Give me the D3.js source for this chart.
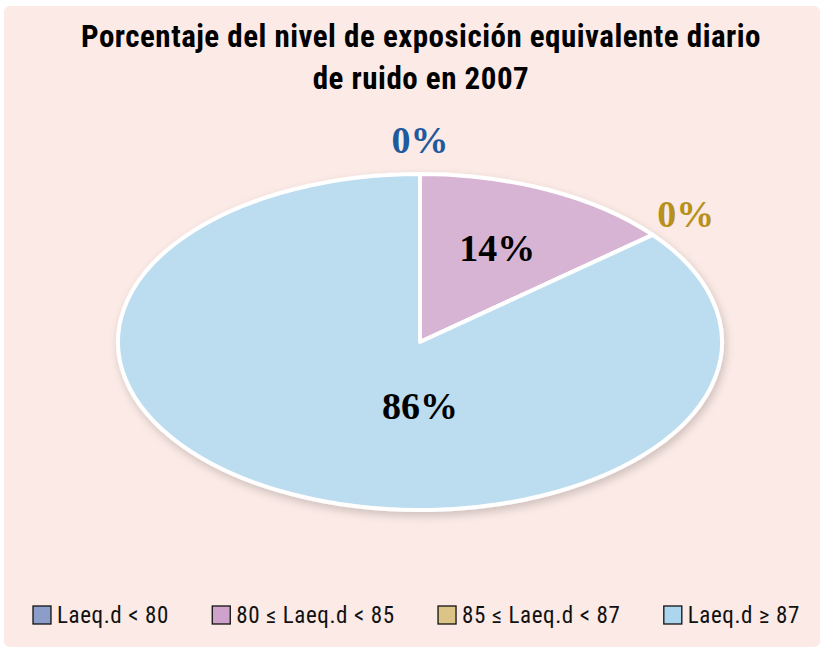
<!DOCTYPE html>
<html>
<head>
    <meta charset="UTF-8">
    <script src="https://d3js.org/d3.v7.min.js"></script>
    <style type="text/css">
        body { margin: 0; background: #ffffff; }
    </style>
</head>
<body>
    <script type="text/javascript">
        // chart data
        var categories = ["Laeq.d < 80", "80 \u2264 Laeq.d < 85", "85 \u2264 Laeq.d < 87", "Laeq.d \u2265 87"];
        var values = [0, 14, 0, 86];
        var sliceColors = ["#8b9dc8", "#d8b4d4", "#dcc386", "#bcdcef"];
        var legendColors = ["#8b9dc8", "#cfa2cb", "#dcc386", "#abd6ee"];
        var labelColors = ["#1f5a9c", "#000000", "#b8901c", "#000000"];
        var titleLines = ["Porcentaje del nivel de exposici\u00f3n equivalente diario", "de ruido en 2007"];

        var width = 824, height = 652;
        var cx = 420, cy = 342, rx = 302, ry = 168;
        var condensed = "'Liberation Sans Narrow', 'Roboto Condensed', 'Roboto', sans-serif";

        var svg = d3.select("body")
            .append("svg")
            .attr("width", width)
            .attr("height", height);

        // drop shadow for the pie
        var defs = svg.append("defs");
        defs.append("filter")
            .attr("id", "shadow")
            .attr("x", "-10%").attr("y", "-10%")
            .attr("width", "120%").attr("height", "130%")
            .append("feDropShadow")
            .attr("dx", 2).attr("dy", 4)
            .attr("stdDeviation", 4)
            .attr("flood-color", "#000")
            .attr("flood-opacity", 0.18);

        // background panel
        svg.append("rect")
            .attr("x", 4).attr("y", 6)
            .attr("width", 816).attr("height", 641)
            .attr("rx", 6)
            .attr("fill", "#fbeae6");

        // title
        svg.append("g").selectAll("text")
            .data(titleLines)
            .join("text")
            .attr("x", 421)
            .attr("y", function (d, i) { return 47 + i * 42; })
            .attr("text-anchor", "middle")
            .style("font-family", condensed)
            .style("font-weight", "bold")
            .style("font-size", "31px")
            .style("letter-spacing", "0.5px")
            .attr("fill", "#000")
            .text(function (d) { return d; });

        // pie (drawn as a circle then squashed into an ellipse)
        var pie = d3.pie().sort(null).value(function (d) { return d; });
        var arcs = pie(values);
        var arc = d3.arc().innerRadius(0).outerRadius(ry);

        var pieG = svg.append("g")
            .attr("filter", "url(#shadow)")
            .append("g")
            .attr("transform", "translate(" + cx + "," + cy + ") scale(" + (rx / ry) + ",1)");

        pieG.selectAll("path")
            .data(arcs)
            .join("path")
            .attr("d", arc)
            .attr("fill", function (d, i) { return sliceColors[i]; })
            .attr("stroke", "#fff")
            .attr("stroke-width", 4)
            .attr("stroke-linejoin", "round")
            .attr("vector-effect", "non-scaling-stroke");

        // labels
        function labelPos(d) {
            var a = (d.startAngle + d.endAngle) / 2;
            if (d.value === 0) {
                return [cx + (rx + 43) * Math.sin(a), cy - (ry + 34) * Math.cos(a)];
            }
            if (d.value > 50) {
                return [cx, cy + 0.38 * ry];
            }
            return [cx + 0.6 * rx * Math.sin(a), cy - 0.62 * ry * Math.cos(a)];
        }

        svg.append("g").selectAll("text")
            .data(arcs)
            .join("text")
            .attr("x", function (d) { return labelPos(d)[0]; })
            .attr("y", function (d) { return labelPos(d)[1]; })
            .attr("dy", "0.35em")
            .attr("text-anchor", "middle")
            .style("font-family", "'Liberation Serif', 'DejaVu Serif', serif")
            .style("font-weight", "bold")
            .style("font-size", "38px")
            .attr("fill", function (d, i) { return labelColors[i]; })
            .text(function (d) { return d.value + "%"; });

        // legend: lay items out between x = 33 and x = 800
        var legend = svg.append("g");
        var items = categories.map(function (c, i) {
            var item = legend.append("g");
            item.append("rect")
                .attr("width", 18).attr("height", 18)
                .attr("fill", legendColors[i])
                .attr("stroke", "#111")
                .attr("stroke-width", 1.3);
            var t = item.append("text")
                .attr("x", 24).attr("y", 17)
                .style("font-family", condensed)
                .style("font-size", "23px")
                .style("letter-spacing", "0.6px")
                .attr("fill", "#111")
                .text(c);
            return { g: item, w: 24 + t.node().getComputedTextLength() };
        });
        var total = d3.sum(items, function (d) { return d.w; });
        var gap = (800 - 33 - total) / (items.length - 1);
        var lx = 33;
        items.forEach(function (it) {
            it.g.attr("transform", "translate(" + lx + ",606)");
            lx += it.w + gap;
        });
    </script>
</body>
</html>
